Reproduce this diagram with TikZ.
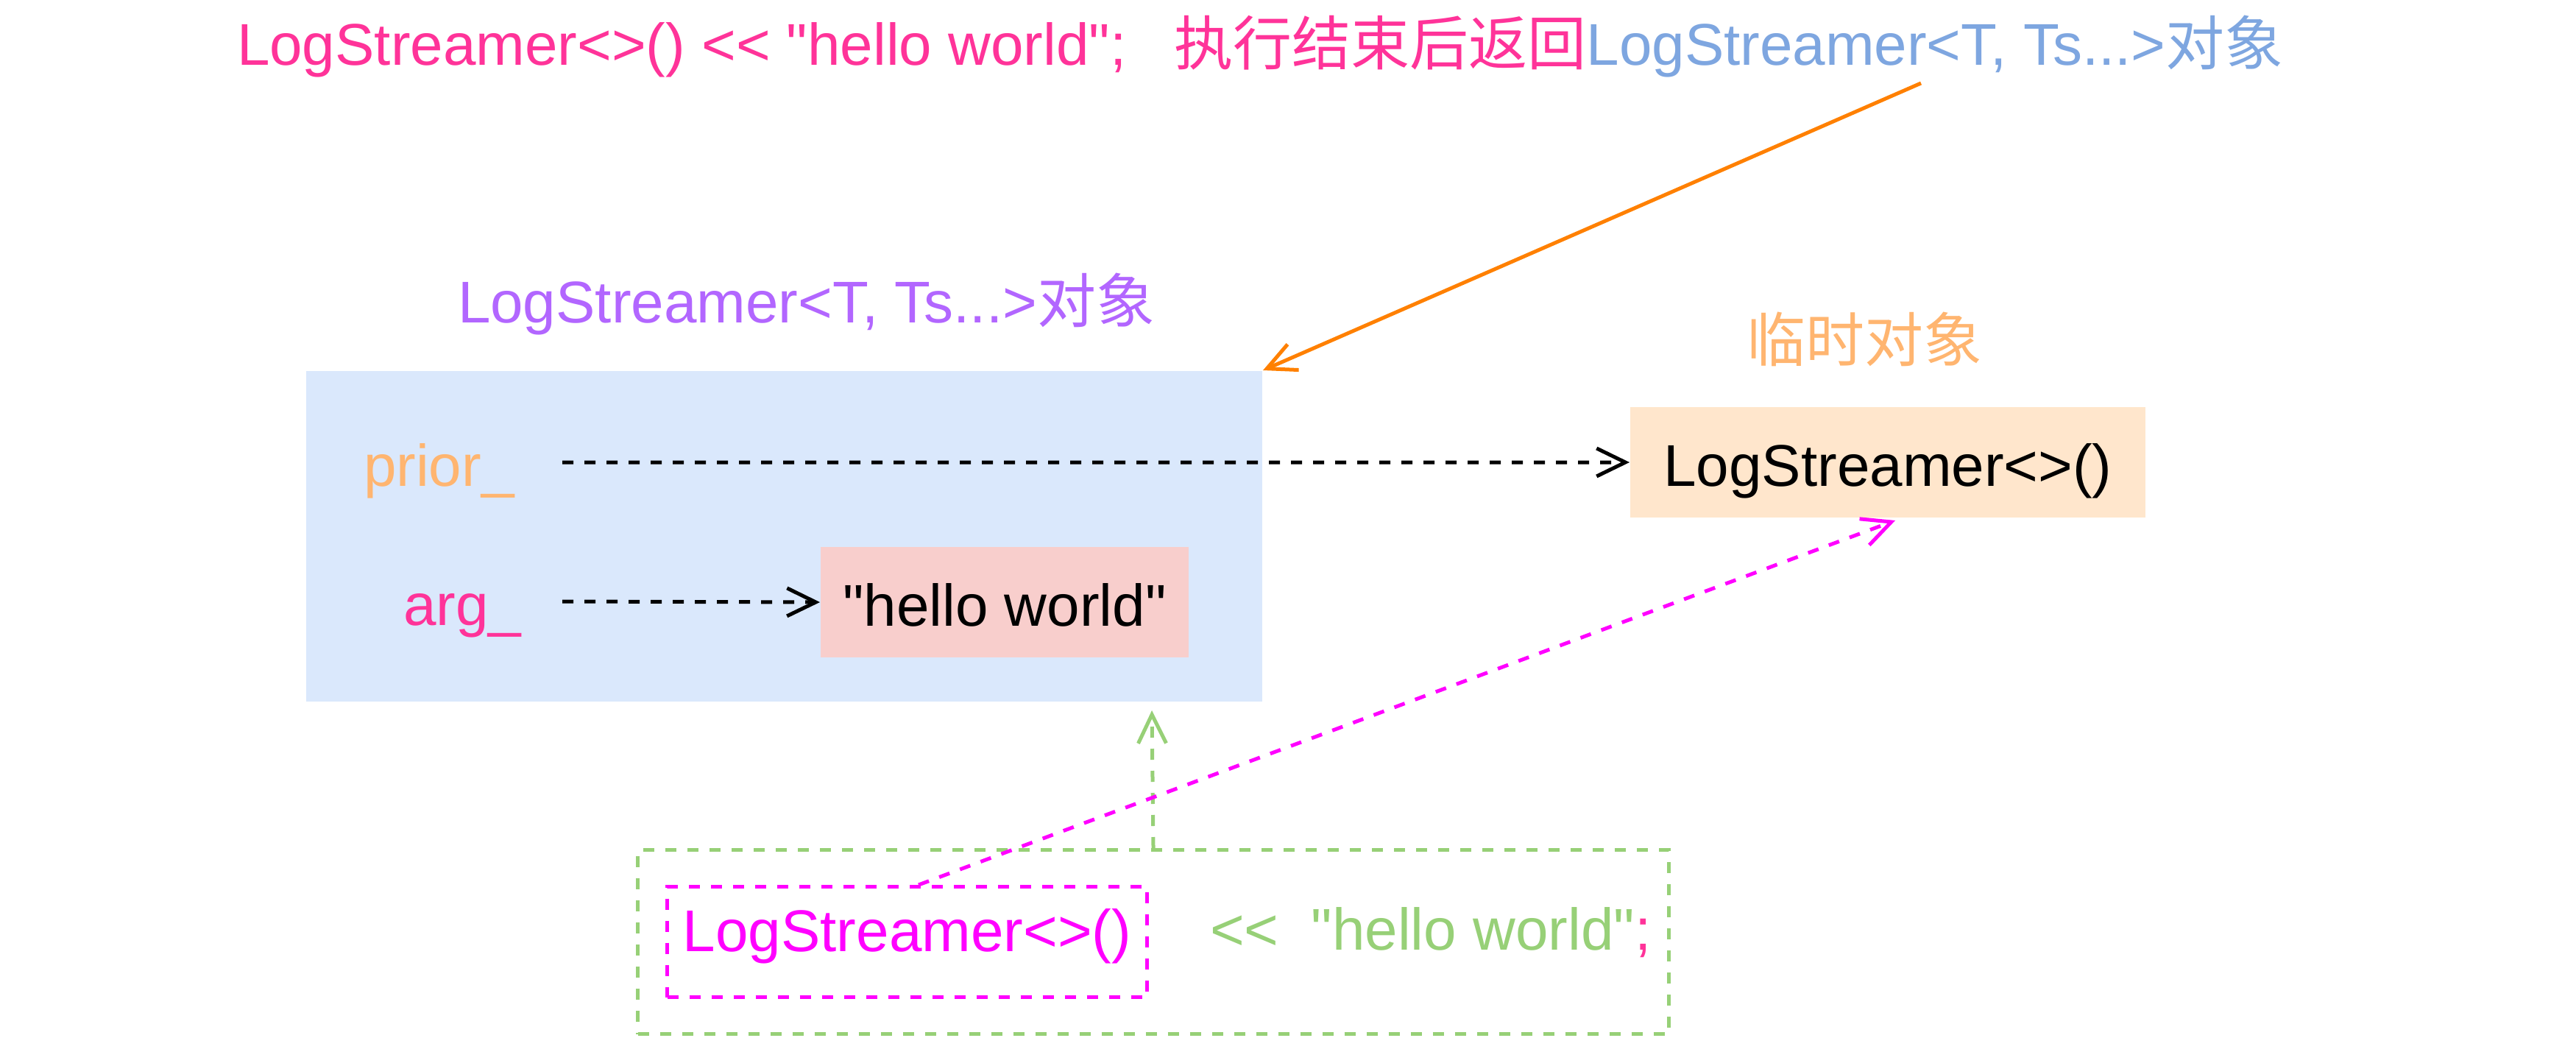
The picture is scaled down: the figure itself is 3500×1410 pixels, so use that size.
\documentclass[tikz,border=0pt]{standalone}
\usepackage{fontspec}
\setmainfont{Liberation Sans}[Ligatures=TeXOff]
\newfontfamily\cjk{Noto Sans CJK SC}
\newcommand\zh[1]{{\cjk #1}}
\usetikzlibrary{arrows.meta}
\definecolor{pinktext}{HTML}{FF3399}
\definecolor{bluetext}{HTML}{7EA6E0}
\definecolor{purpletext}{HTML}{B266FF}
\definecolor{orangetext}{HTML}{FFB570}
\definecolor{orangeline}{HTML}{FF8000}
\definecolor{greenline}{HTML}{97D077}
\definecolor{magentaline}{HTML}{FF00FF}
\definecolor{bluefill}{HTML}{DAE8FC}
\definecolor{pinkfill}{HTML}{F8CECC}
\definecolor{peachfill}{HTML}{FFE6CC}
\tikzset{
  box/.style={rectangle, inner sep=0pt, draw=none},
  tbox/.style={rectangle, inner xsep=0pt, inner ysep=0pt, text height=21.4pt, text depth=8.6pt, align=center},
  lbl/.style={inner sep=0pt, anchor=base west},
  dsh/.style={dash pattern=on 3pt off 3pt},
  opentip/.style={-{Straight Barb[length=7.8pt,width=7.6pt]}},
  conn/.style={line width=1pt, opentip},
}
\begin{document}
\begin{tikzpicture}[x=0.2pt,y=-0.2pt, font=\fontsize{16}{19}\selectfont]
\useasboundingbox (0,0) rectangle (3500,1410);

% title
\node[lbl] (title) at (321,89) {\color{pinktext}LogStreamer<>() << "hello world";\hspace{13pt}\zh{执行结束后返回}\color{bluetext}LogStreamer<T, Ts...>\zh{对象}};

% object box
\node[box, fill=bluefill, minimum width=259.8pt, minimum height=89.8pt, anchor=north west] (blue) at (415,503) {};
\node[lbl, text=purpletext] (objlabel) at (621,439) {LogStreamer<T, Ts...>\zh{对象}};
\node[lbl, text=orangetext] (prior) at (493,660) {prior\_};
\node[lbl, text=pinktext] (arg) at (547,849) {arg\_};
\node[tbox, fill=pinkfill, minimum width=100pt, anchor=north west] (hello) at (1114,742) {"hello world"};

% temporary object
\node[inner sep=0pt, text=orangetext] (tmplabel) at (2533,461) {\zh{临时对象}};
\node[tbox, fill=peachfill, minimum width=140pt, anchor=north west] (tmp) at (2214,552) {LogStreamer<>()};

% expression
\node[box, draw=greenline, line width=1pt, dsh, minimum width=280.2pt, minimum height=50pt, anchor=north west] (expr) at (864,1152) {};
\node[tbox, draw=magentaline, line width=1pt, dsh, text=magentaline, minimum width=130.4pt, text height=17.6pt, text depth=12.4pt, anchor=north west] (mls) at (904,1202) {LogStreamer<>()};
\node[lbl, text=greenline] (op) at (1643,1290) {<<\ \ "hello world"\textcolor{pinktext}{;}};

% connector ends
\coordinate (ps) at (764,628);
\coordinate (as) at (764,817);
\coordinate (os) at (2610,113);
\coordinate (gt) at (1565,965);
\coordinate (ms) at (1248,1202);
\coordinate (mt) at (2575,707);

% connectors
\draw[conn, dsh, black] (ps) -- (tmp.west);
\draw[conn, dsh, black] (as) -- (hello.west);
\draw[conn, orangeline] (os) -- (blue.north east);
\draw[conn, dsh, greenline] (expr.north) -- (gt);
\draw[conn, dsh, magentaline] (ms) -- (mt);
\end{tikzpicture}
\end{document}
